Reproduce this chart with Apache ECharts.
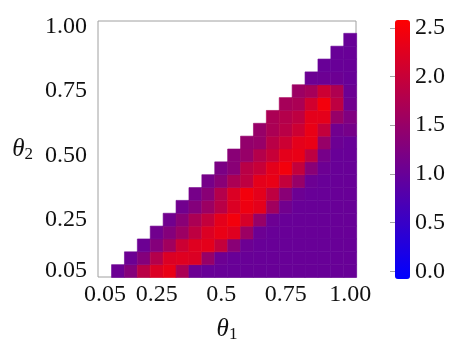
<!DOCTYPE html>
<html>
<head>
<meta charset="utf-8">
<script src="https://cdn.jsdelivr.net/npm/echarts@6/dist/echarts.min.js"></script>
<style>
html,body{margin:0;padding:0;background:#fff;}
#chart{width:458px;height:342px;}
</style>
</head>
<body>
<div id="chart"></div>
<script>
// theta1 (x) cell centres and theta2 (y) cell centres
var theta1 = [0.1, 0.15, 0.2, 0.25, 0.3, 0.35, 0.4, 0.45, 0.5, 0.55, 0.6, 0.65, 0.7, 0.75, 0.8, 0.85, 0.9, 0.95, 1.0];
var theta2 = [0.05, 0.1, 0.15, 0.2, 0.25, 0.3, 0.35, 0.4, 0.45, 0.5, 0.55, 0.6, 0.65, 0.7, 0.75, 0.8, 0.85, 0.9, 0.95];

// one row per theta2, starting at theta1 = theta2 + 0.05 and running to 1.0
var r0 = [1.05, 1.3, 1.85, 2.2, 2.35, 1.7, 1.05, 1.0, 1.0, 1.0, 1.0, 1.0, 1.0, 1.0, 1.0, 1.0, 1.0, 1.0, 1.0];
var r1 = [1.05, 1.3, 1.8, 2.2, 2.25, 2.2, 1.5, 1.05, 1.0, 1.0, 1.0, 1.0, 1.0, 1.0, 1.0, 1.0, 1.0, 1.0];
var r2 = [1.05, 1.3, 1.6, 2.05, 2.25, 2.3, 1.95, 1.35, 1.05, 1.0, 1.0, 1.0, 1.0, 1.0, 1.0, 1.0, 1.0];
var r3 = [1.1, 1.3, 1.55, 1.9, 2.2, 2.35, 2.25, 1.55, 1.05, 1.0, 1.0, 1.0, 1.0, 1.0, 1.0, 1.0];
var r4 = [1.1, 1.35, 1.7, 1.95, 2.3, 2.45, 2.15, 1.5, 1.05, 1.0, 1.0, 1.0, 1.0, 1.0, 1.0];
var r5 = [1.1, 1.3, 1.55, 1.85, 2.2, 2.4, 2.3, 1.6, 1.1, 1.0, 1.0, 1.0, 1.0, 1.0];
var r6 = [1.15, 1.35, 1.8, 2.2, 2.45, 2.3, 1.9, 1.35, 1.05, 1.0, 1.0, 1.0, 1.0];
var r7 = [1.15, 1.35, 1.7, 1.9, 2.3, 2.35, 1.95, 1.5, 1.05, 1.0, 1.0, 1.0];
var r8 = [1.2, 1.35, 1.85, 2.0, 2.3, 2.45, 1.95, 1.35, 1.05, 1.0, 1.0];
var r9 = [1.35, 1.5, 1.8, 2.0, 2.3, 2.35, 1.9, 1.15, 1.0, 1.0];
var r10 = [1.45, 1.5, 1.85, 2.05, 2.3, 2.35, 1.5, 1.05, 1.0];
var r11 = [1.5, 1.7, 1.85, 2.05, 2.35, 1.95, 1.1, 1.15];
var r12 = [1.7, 1.8, 1.9, 2.3, 2.3, 1.5, 1.25];
var r13 = [1.65, 1.7, 2.1, 2.45, 1.9, 1.1];
var r14 = [1.55, 1.65, 2.05, 1.75, 1.05];
var r15 = [1.05, 1.05, 1.05, 1.0];
var r16 = [1.0, 1.0, 1.0];
var r17 = [1.0, 1.0];
var r18 = [1.0];
var rows = [r0, r1, r2, r3, r4, r5, r6, r7, r8, r9, r10, r11, r12, r13, r14, r15, r16, r17, r18];

var xTicks = [0.05, 0.25, 0.5, 0.75, 1.0];
var xTickText = ['0.05', '0.25', '0.5', '0.75', '1.00'];
var yTicks = [0.05, 0.25, 0.5, 0.75, 1.0];
var yTickText = ['0.05', '0.25', '0.50', '0.75', '1.00'];
var cbTicks = [0, 0.5, 1.0, 1.5, 2.0, 2.5];
var cbMin = -0.08, cbMax = 2.58;

var cells = [];
rows.forEach(function (row, j) {
  row.forEach(function (v, k) {
    cells.push([theta1[j + k], theta2[j], v]);
  });
});

var font = 'Liberation Serif';
var myChart = echarts.init(document.getElementById('chart'));

var option = {
  animation: false,
  textStyle: {fontFamily: font},
  grid: [
    {left: 98, top: 21, width: 258, height: 256, show: true, borderColor: '#a0a0a0', borderWidth: 1, outerBoundsMode: 'none'},
    {left: 395, top: 20, width: 15, height: 259, show: false, outerBoundsMode: 'none'}
  ],
  xAxis: [
    {
      type: 'value', gridIndex: 0, min: 0.0225, max: 1.0225,
      axisLine: {show: false}, axisTick: {show: false}, splitLine: {show: false},
      axisLabel: {
        customValues: xTicks, margin: 6, color: '#111', fontSize: 24, fontFamily: font,
        formatter: function (v) { return xTickText[xTicks.indexOf(v)]; }
      },
      name: '{t|θ}{s|1}', nameLocation: 'middle', nameGap: 38,
      nameTextStyle: {
        rich: {
          t: {fontFamily: font, fontStyle: 'italic', fontSize: 25, lineHeight: 28, color: '#111'},
          s: {fontFamily: font, fontSize: 17, lineHeight: 16, verticalAlign: 'bottom', color: '#111'}
        }
      }
    },
    {type: 'value', gridIndex: 1, min: 0, max: 1, show: false}
  ],
  yAxis: [
    {
      type: 'value', gridIndex: 0, min: 0.027, max: 1.023,
      axisLine: {show: false}, axisTick: {show: false}, splitLine: {show: false},
      axisLabel: {
        customValues: yTicks, margin: 11, color: '#111', fontSize: 24, fontFamily: font,
        padding: [4, 0, 0, 0],
        formatter: function (v) { return yTickText[yTicks.indexOf(v)]; }
      },
      name: '{t|θ}{s|2}', nameLocation: 'middle', nameGap: 65, nameRotate: 0,
      nameTextStyle: {
        rich: {
          t: {fontFamily: font, fontStyle: 'italic', fontSize: 25, lineHeight: 28, color: '#111'},
          s: {fontFamily: font, fontSize: 17, lineHeight: 16, verticalAlign: 'bottom', color: '#111'}
        }
      }
    },
    {
      type: 'value', gridIndex: 1, min: cbMin, max: cbMax, position: 'right',
      axisLine: {show: false}, splitLine: {show: false},
      axisTick: {show: true, inside: true, length: 5, customValues: cbTicks, lineStyle: {color: 'rgba(0,0,0,0.35)'}},
      axisLabel: {
        customValues: cbTicks, margin: 5, color: '#111', fontSize: 24, fontFamily: font,
        padding: [4, 0, 0, 0],
        formatter: function (v) { return v.toFixed(1); }
      }
    }
  ],
  visualMap: {
    type: 'continuous', min: cbMin, max: cbMax, dimension: 2, seriesIndex: 0,
    calculable: false, text: null, showLabel: false, padding: 0,
    left: 395, top: 20, itemWidth: 15, itemHeight: 259,
    inRange: {color: ['#0000ff', '#ff0000']}
  },
  series: [{
    type: 'custom',
    xAxisIndex: 0, yAxisIndex: 0,
    data: cells,
    encode: {x: 0, y: 1},
    renderItem: function (params, api) {
      var x = api.value(0), y = api.value(1);
      var p0 = api.coord([x - 0.025, y + 0.025]);
      var p1 = api.coord([x + 0.025, y - 0.025]);
      var c = api.visual('color');
      return {
        type: 'rect',
        shape: {x: p0[0], y: p0[1], width: p1[0] - p0[0], height: p1[1] - p0[1]},
        style: {fill: c, stroke: c, lineWidth: 0.6}
      };
    }
  }]
};

myChart.setOption(option);
</script>
</body>
</html>
